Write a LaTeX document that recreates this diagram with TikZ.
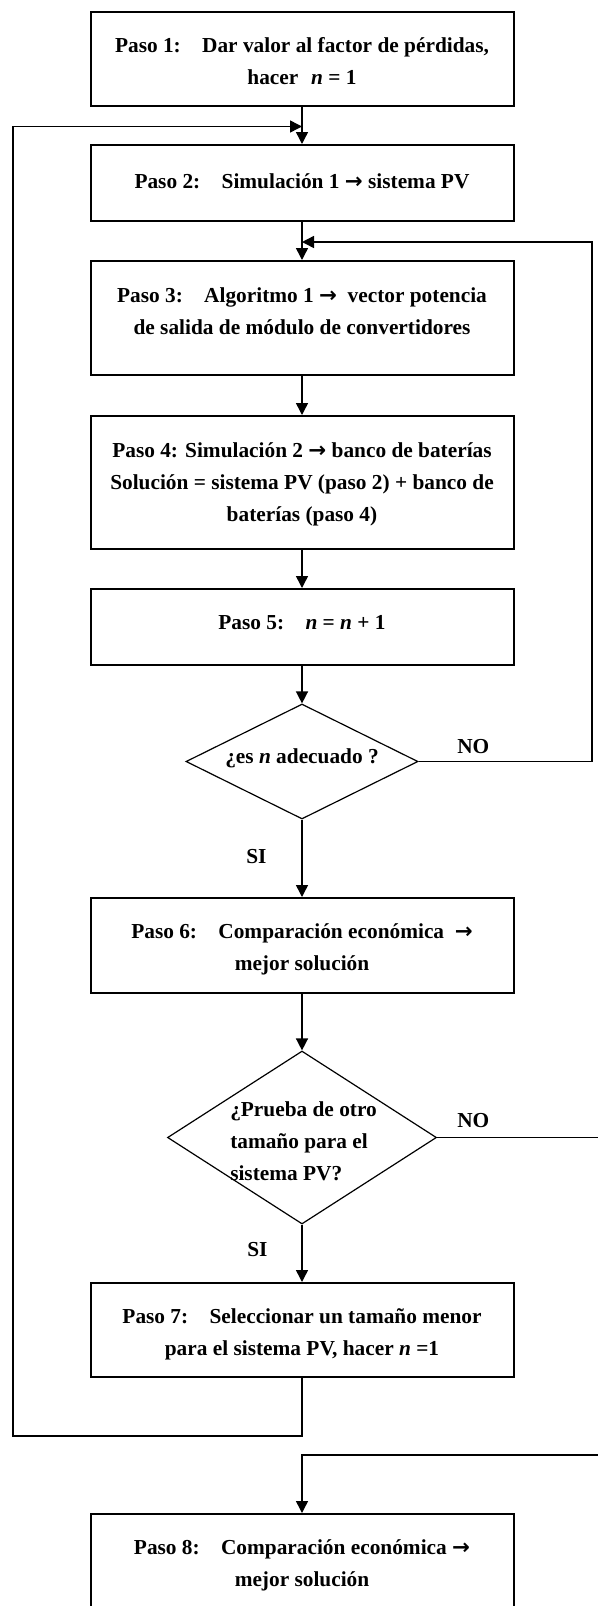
\documentclass[tikz,border=0pt]{standalone}
\usepackage{fontspec}
\setmainfont{Liberation Serif}
\newfontfamily\arrowfont{DejaVu Sans}
\usetikzlibrary{shapes.geometric,arrows.meta}
% bold arrow used inside the step texts
\newcommand{\pvarrow}{{\arrowfont\bfseries →}}
% wide gap after the "Paso N:" labels
\newcommand{\tabgap}{\hspace{1em}}
% centred / left-aligned multi-line text whose baseline is the first line
\newcommand{\clines}[1]{\begin{tabular}[t]{@{}c@{}}#1\end{tabular}}
\newcommand{\llines}[1]{\begin{tabular}[t]{@{}l@{}}#1\end{tabular}}

\begin{document}
\begin{tikzpicture}[x=0.75pt,y=-0.75pt,
  stepbox/.style={draw, line width=1.5pt, minimum width=317.25pt, inner sep=0pt},
  choice/.style={draw, diamond, line width=0.9pt, inner sep=0pt},
  txt/.style={font=\fontsize{16}{24}\selectfont\bfseries, inner sep=0pt},
  conn/.style={line width=1.1pt},
  flow/.style={conn, -{Triangle[length=9pt,width=9pt]}}]
\useasboundingbox (0,0) rectangle (598,1606);
\clip (0,0) rectangle (598,1606);

% process boxes
\node[stepbox, minimum height=70.5pt]  (b1) at (302,58.5)   {};
\node[stepbox, minimum height=57pt]    (b2) at (302,183)    {};
\node[stepbox, minimum height=85.5pt]  (b3) at (302,318)    {};
\node[stepbox, minimum height=99.75pt] (b4) at (302,482.5)  {};
\node[stepbox, minimum height=57pt]    (b5) at (302,627)    {};
\node[stepbox, minimum height=71.25pt] (b6) at (302,945.5)  {};
\node[stepbox, minimum height=70.5pt]  (b7) at (302,1330)   {};
\node[stepbox, minimum height=71.25pt] (b8) at (302,1561.5) {};

% decisions
\node[choice, minimum width=174pt, minimum height=86.25pt]     (d1) at (302,761.5)  {};
\node[choice, minimum width=201.75pt, minimum height=129.75pt] (d2) at (302,1137.5) {};

% texts
\node[txt, anchor=base] (t1) at (302,52.7) {\clines{Paso 1:\tabgap Dar valor al factor de pérdidas,\\hacer\hspace{0.6em}\textit{n} = 1}};
\node[txt, anchor=base] (t2) at (302,188.3) {Paso 2:\tabgap Simulación 1 \pvarrow{} sistema PV};
\node[txt, anchor=base] (t3) at (302,302) {\clines{Paso 3:\tabgap Algoritmo 1 \pvarrow\hspace{0.5em}vector potencia\\de salida de módulo de convertidores}};
\node[txt, anchor=base] (t4) at (302,457) {\clines{Paso 4: Simulación 2 \pvarrow{} banco de baterías\\Solución = sistema PV (paso 2) + banco de\\baterías (paso 4)}};
\node[txt, anchor=base] (t5) at (302,629) {Paso 5:\tabgap\textit{n} = \textit{n} + 1};
\node[txt, anchor=base] (td1) at (302,763) {¿es \textit{n} adecuado ?};
\node[txt, anchor=base] (t6) at (302,938) {\clines{Paso 6:\tabgap Comparación económica\hspace{0.5em}\pvarrow\\mejor solución}};
\node[txt, anchor=base west] (td2) at (230,1116) {\llines{¿Prueba de otro\\tamaño para el\\sistema PV?}};
\node[txt, anchor=base] (t7) at (302,1323) {\clines{Paso 7:\tabgap Seleccionar un tamaño menor\\para el sistema PV, hacer \textit{n} =1}};
\node[txt, anchor=base] (t8) at (302,1554) {\clines{Paso 8:\tabgap Comparación económica \pvarrow\\mejor solución}};

% branch labels
\node[txt, anchor=base west] (no1) at (457,753)  {NO};
\node[txt, anchor=base west] (no2) at (457,1127) {NO};
\node[txt, anchor=base west] (si1) at (246,863)  {SI};
\node[txt, anchor=base west] (si2) at (247,1256) {SI};

% junction and corner points of the loops
\coordinate (j1) at (302,126.5);
\coordinate (tl) at (13,126.5);
\coordinate (bl) at (13,1436);
\coordinate (j2) at (302,242);
\coordinate (rt) at (592,242);
\coordinate (rb) at (592,761.5);
\coordinate (ex) at (604,1137.5);
\coordinate (en) at (604,1455);

% main flow
\draw[flow] (b1.south) -- (b2.north);
\draw[flow] (b2.south) -- (b3.north);
\draw[flow] (b3.south) -- (b4.north);
\draw[flow] (b4.south) -- (b5.north);
\draw[flow] (b5.south) -- (d1.north);
\draw[flow] (d1.south) -- (b6.north);
\draw[flow] (b6.south) -- (d2.north);
\draw[flow] (d2.south) -- (b7.north);

% loops back
\draw[flow] (b7.south) |- (bl) -- (tl) -- (j1);
\draw[flow] (d1.east) -- (rb) -- (rt) -- (j2);

% exit towards the final step
\draw[conn] (d2.east) -- (ex);
\draw[flow] (en) -| (b8.north);
\end{tikzpicture}
\end{document}
